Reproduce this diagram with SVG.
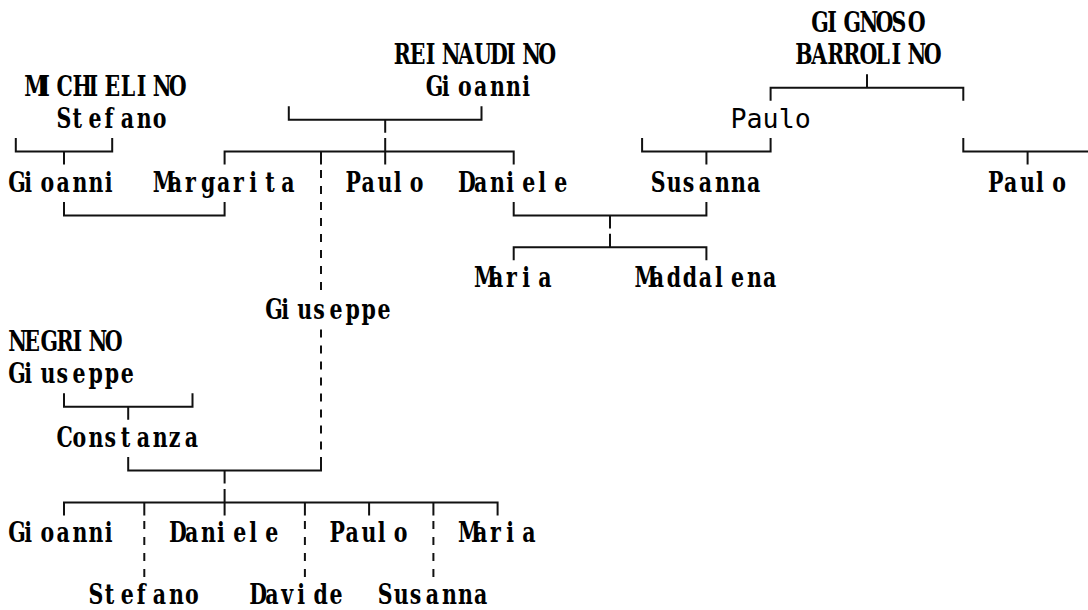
<svg xmlns="http://www.w3.org/2000/svg" width="1088" height="610" viewBox="0 0 1088 610">
<style>
.t{font-family:"DejaVu Serif","Liberation Serif",serif;font-size:28.5px;font-weight:bold;fill:#000}
.m{font-family:"DejaVu Sans Mono","Liberation Mono",monospace;font-size:26.67px;fill:#000}
.c{fill:none;stroke:#111;stroke-width:2}
.d{fill:none;stroke:#111;stroke-width:2;stroke-dasharray:8 8}
</style>
<rect width="1088" height="610" fill="#fff"/>
<g id="connectors">
<path class="c" d="M15.8 138.1V151.6H112.2V138.1M64 151.6V164.6"/>
<path class="c" d="M288.8 106.2V119.7H481.5V106.2M385.2 119.7V132.7"/>
<path class="c" d="M224.6 164.6V151.6H513.7V164.6M385.2 138.1V164.6M321 151.6V164.6"/>
<path class="d" d="M321 170V292.2M321 329.5V451.7"/>
<path class="c" d="M321 457.1V470.6H128.2V457.1M224.6 470.6V483.6"/>
<path class="c" d="M64 201.9V215.4H224.6V201.9"/>
<path class="c" d="M513.7 201.9V215.4H706.4V201.9M610 215.4V228.4"/>
<path class="c" d="M513.7 260.3V247.3H706.4V260.3M610 233.8V247.3"/>
<path class="c" d="M770.6 100.8V87.8H963.3V100.8M867 74.3V87.8"/>
<path class="c" d="M642.1 138.1V151.6H770.6V138.1M706.4 151.6V164.6"/>
<path class="c" d="M963.3 138.1V151.6H1088M1027.6 151.6V164.6"/>
<path class="c" d="M64 393.3V406.8H192.5V393.3M128.2 406.8V419.8"/>
<path class="c" d="M64 515.5V502.5H497.6V515.5M144.3 502.5V515.5M304.9 502.5V515.5M369.1 502.5V515.5M433.4 502.5V515.5M224.6 489V515.5"/>
<path class="d" d="M144.3 520.9V579.3M304.9 520.9V579.3M433.4 520.9V579.3"/>
</g>
<g id="gignoso-barrolino">
<text class="t" transform="translate(811.3,32) scale(0.72,1)" x="0 22.31 44.61 66.92 89.22 111.53 133.83 156.14 178.44 200.75">GIGNOSO</text>
<text class="t" transform="translate(795.2,63.9) scale(0.72,1)" x="0 22.31 44.61 66.92 89.22 111.53 133.83 156.14 178.44 200.75">BARROLINO</text>
</g>
<g id="reinaudino-gioanni">
<text class="t" transform="translate(393.7,63.9) scale(0.72,1)" x="0 22.31 44.61 66.92 89.22 111.53 133.83 156.14 178.44 200.75">REINAUDINO</text>
<text class="t" transform="translate(425.8,95.8) scale(0.72,1)" x="0 22.31 44.61 66.92 89.22 111.53 133.83 156.14 178.44 200.75">Gioanni</text>
</g>
<g id="michielino-stefano">
<text class="t" transform="translate(24.3,95.8) scale(0.72,1)" x="0 22.31 44.61 66.92 89.22 111.53 133.83 156.14 178.44 200.75">MICHIELINO</text>
<text class="t" transform="translate(56.4,127.7) scale(0.72,1)" x="0 22.31 44.61 66.92 89.22 111.53 133.83 156.14 178.44 200.75">Stefano</text>
</g>
<g id="paulo-gignoso">
<text class="m" x="730.5" y="127.7">Paulo</text>
</g>
<g id="gioanni-michielino">
<text class="t" transform="translate(8.3,191.5) scale(0.72,1)" x="0 22.31 44.61 66.92 89.22 111.53 133.83 156.14 178.44 200.75">Gioanni</text>
</g>
<g id="margarita">
<text class="t" transform="translate(152.8,191.5) scale(0.72,1)" x="0 22.31 44.61 66.92 89.22 111.53 133.83 156.14 178.44 200.75">Margarita</text>
</g>
<g id="paulo-reinaudino">
<text class="t" transform="translate(345.5,191.5) scale(0.72,1)" x="0 22.31 44.61 66.92 89.22 111.53 133.83 156.14 178.44 200.75">Paulo</text>
</g>
<g id="daniele-reinaudino">
<text class="t" transform="translate(458,191.5) scale(0.72,1)" x="0 22.31 44.61 66.92 89.22 111.53 133.83 156.14 178.44 200.75">Daniele</text>
</g>
<g id="susanna">
<text class="t" transform="translate(650.7,191.5) scale(0.72,1)" x="0 22.31 44.61 66.92 89.22 111.53 133.83 156.14 178.44 200.75">Susanna</text>
</g>
<g id="paulo-right">
<text class="t" transform="translate(987.9,191.5) scale(0.72,1)" x="0 22.31 44.61 66.92 89.22 111.53 133.83 156.14 178.44 200.75">Paulo</text>
</g>
<g id="maria-top">
<text class="t" transform="translate(474,287.2) scale(0.72,1)" x="0 22.31 44.61 66.92 89.22 111.53 133.83 156.14 178.44 200.75">Maria</text>
</g>
<g id="maddalena">
<text class="t" transform="translate(634.6,287.2) scale(0.72,1)" x="0 22.31 44.61 66.92 89.22 111.53 133.83 156.14 178.44 200.75">Maddalena</text>
</g>
<g id="giuseppe-son">
<text class="t" transform="translate(265.2,319.1) scale(0.72,1)" x="0 22.31 44.61 66.92 89.22 111.53 133.83 156.14 178.44 200.75">Giuseppe</text>
</g>
<g id="negrino-giuseppe">
<text class="t" transform="translate(8.3,351) scale(0.72,1)" x="0 22.31 44.61 66.92 89.22 111.53 133.83 156.14 178.44 200.75">NEGRINO</text>
<text class="t" transform="translate(8.3,382.9) scale(0.72,1)" x="0 22.31 44.61 66.92 89.22 111.53 133.83 156.14 178.44 200.75">Giuseppe</text>
</g>
<g id="constanza">
<text class="t" transform="translate(56.4,446.7) scale(0.72,1)" x="0 22.31 44.61 66.92 89.22 111.53 133.83 156.14 178.44 200.75">Constanza</text>
</g>
<g id="gioanni-child">
<text class="t" transform="translate(8.3,542.4) scale(0.72,1)" x="0 22.31 44.61 66.92 89.22 111.53 133.83 156.14 178.44 200.75">Gioanni</text>
</g>
<g id="daniele-child">
<text class="t" transform="translate(168.9,542.4) scale(0.72,1)" x="0 22.31 44.61 66.92 89.22 111.53 133.83 156.14 178.44 200.75">Daniele</text>
</g>
<g id="paulo-child">
<text class="t" transform="translate(329.5,542.4) scale(0.72,1)" x="0 22.31 44.61 66.92 89.22 111.53 133.83 156.14 178.44 200.75">Paulo</text>
</g>
<g id="maria-child">
<text class="t" transform="translate(458,542.4) scale(0.72,1)" x="0 22.31 44.61 66.92 89.22 111.53 133.83 156.14 178.44 200.75">Maria</text>
</g>
<g id="stefano-child">
<text class="t" transform="translate(88.6,603.5) scale(0.72,1)" x="0 22.31 44.61 66.92 89.22 111.53 133.83 156.14 178.44 200.75">Stefano</text>
</g>
<g id="davide-child">
<text class="t" transform="translate(249.2,603.5) scale(0.72,1)" x="0 22.31 44.61 66.92 89.22 111.53 133.83 156.14 178.44 200.75">Davide</text>
</g>
<g id="susanna-child">
<text class="t" transform="translate(377.7,603.5) scale(0.72,1)" x="0 22.31 44.61 66.92 89.22 111.53 133.83 156.14 178.44 200.75">Susanna</text>
</g>
</svg>
